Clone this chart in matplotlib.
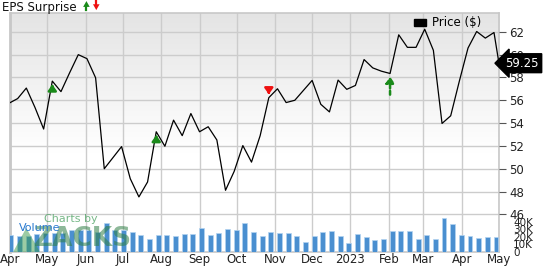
import numpy as np
import pandas as pd
import matplotlib
matplotlib.use("Agg")
import matplotlib.pyplot as plt
import matplotlib.transforms as mtransforms
from matplotlib.patches import Patch, Polygon

# data (weekly closes, last one is the current price)
price_dates = list(pd.date_range("2022-03-31", periods=57, freq="7D")) + [pd.Timestamp("2023-05-01")]
price = [55.74, 56.15, 57.07, 55.37, 53.48, 57.68, 56.76, 58.41, 60.0, 59.65,
         57.97, 50.0, 50.97, 51.94, 49.13, 47.53, 48.84, 53.24, 51.97, 54.26,
         52.9, 54.84, 53.24, 53.68, 52.52, 48.11, 49.77, 52.03, 50.58, 52.9,
         56.23, 57.01, 55.8, 56.0, 56.87, 57.74, 55.65, 54.98, 57.77, 56.96,
         57.3, 59.57, 58.84, 58.55, 58.35, 61.74, 60.64, 60.64, 62.23, 60.38,
         53.97, 54.64, 57.68, 60.58, 62.03, 61.45, 61.94, 59.25]
volume = [22.6, 21.3, 21.3, 24.0, 24.9, 24.9, 24.9, 29.3, 29.3, 29.3,
          27.0, 39.0, 29.3, 29.3, 27.0, 22.2, 17.3, 22.2, 22.2, 21.8,
          24.0, 24.0, 31.5, 22.6, 24.9, 30.2, 29.3, 39.0, 27.0, 21.3,
          26.2, 24.9, 24.9, 20.9, 12.9, 21.3, 27.0, 27.5, 21.3, 12.0,
          23.5, 19.5, 16.2, 16.9, 28.0, 28.0, 27.5, 16.9, 22.2, 17.3,
          44.8, 36.9, 22.2, 21.3, 18.2, 19.5, 20.0, 10.7]  # thousands
beats = [5, 17]      # index of green arrows
misses = [30]        # red arrows
upcoming = 44        # dashed green arrow
price_ticks = [46, 48, 50, 52, 54, 56, 58, 60, 62]
vol_ticks = [0, 10, 20, 30, 40]
vol_labels = ["0", "10K", "20K", "30K", "40K"]
month_ticks = pd.date_range("2022-04-01", "2023-05-01", freq="MS")
month_labels = ["Apr", "May", "Jun", "Jul", "Aug", "Sep", "Oct", "Nov", "Dec",
                "2023", "Feb", "Mar", "Apr", "May"]

fig = plt.figure(figsize=(5.47, 2.66), dpi=100)
ax = fig.add_axes([0.0174, 0.0526, 0.8955, 0.8985])

# gray -> white background gradient
grad = np.linspace(0, 1, 256).reshape(-1, 1)
grad = np.clip(grad * 1.7, 0, 1)
ax.imshow(grad, cmap=matplotlib.colors.LinearSegmentedColormap.from_list("g", ["#e4e4e4", "#ffffff"]),
          extent=[0, 1, 0, 1], transform=ax.transAxes, aspect="auto", zorder=0, origin="upper")

x0 = pd.Timestamp("2022-03-31 10:00")
x1 = pd.Timestamp("2023-05-01 08:00")
ax.set_xlim(x0, x1)
ax.set_ylim(42.7, 63.65)

for t in price_ticks:
    ax.axhline(t, color="#cccccc", lw=1, zorder=1)
for t in month_ticks:
    ax.axvline(t, color="#cccccc", lw=1, zorder=1)

# volume on a twin axis
axv = ax.twinx()
axv.set_ylim(0, 318)
vdates = [d + pd.Timedelta(days=1.6) for d in price_dates]
axv.bar(vdates, volume, width=4.0, color="#4a8fd0", edgecolor="#b3d3f0", linewidth=0.5, zorder=2)
axv.set_yticks(vol_ticks)
axv.set_yticklabels(vol_labels, fontsize=7.5, color="#222222")
axv.tick_params(axis="y", length=0, pad=10)
for s in axv.spines.values():
    s.set_visible(False)

axp = ax.twinx()
axp.set_ylim(42.7, 63.65)
axp.plot(price_dates, price, color="black", lw=0.9, zorder=5)
axp.set_yticks(price_ticks)
axp.set_yticklabels([str(t) for t in price_ticks], fontsize=8.5, color="#222222")
axp.tick_params(axis="y", length=5, width=0.8, color="#555555", pad=2)
for s in axp.spines.values():
    s.set_visible(False)

ax.set_yticks([])
ax.set_xticks(month_ticks)
ax.set_xticklabels(month_labels, fontsize=8.5, color="#222222")
ax.tick_params(axis="x", length=0, pad=0.5)
for name, s in ax.spines.items():
    s.set_color("#c8c8c8")
    s.set_linewidth(1.2)
ax.spines["left"].set_linewidth(2)

# EPS surprise arrows
head = "-|>,head_width=0.25,head_length=0.35"
for i in beats:
    axp.annotate("", xy=(price_dates[i], price[i] - 0.05), xytext=(price_dates[i], price[i] - 0.75),
                 arrowprops=dict(arrowstyle=head, color="#1a8a1a", lw=1.8), zorder=6)
for i in misses:
    axp.annotate("", xy=(price_dates[i], price[i] + 0.05), xytext=(price_dates[i], price[i] + 0.75),
                 arrowprops=dict(arrowstyle=head, color="#ee1111", lw=1.8), zorder=6)
axp.annotate("", xy=(price_dates[upcoming], price[upcoming] - 0.05),
             xytext=(price_dates[upcoming], price[upcoming] - 2.1),
             arrowprops=dict(arrowstyle=head, color="#1a8a1a",
                             lw=1.8, linestyle=(0, (1.5, 1))), zorder=6)

# current price callout
trans = mtransforms.blended_transform_factory(axp.transAxes, axp.transData)
axp.text(1.012, price[-1], "59.25", transform=trans, color="white", fontsize=8.5, va="center", ha="left",
         bbox=dict(boxstyle="larrow,pad=0.25", fc="black", ec="black"), zorder=10, clip_on=False)

axp.legend(handles=[Patch(color="black", label="Price ($)")], loc="upper right", bbox_to_anchor=(0.985, 1.03),
           frameon=False, fontsize=8.5, handlelength=1.0, handleheight=0.5, handletextpad=0.5)

# header
fig.text(0.004, 0.997, "EPS Surprise", fontsize=8.5, color="#111111", va="top", ha="left")
fig.patches.append(Polygon([[0.152, 0.974], [0.164, 0.974], [0.158, 0.996]], closed=True,
                           transform=fig.transFigure, fc="#1a8a1a", ec="none"))
fig.lines.append(plt.Line2D([0.158, 0.158], [0.962, 0.976], transform=fig.transFigure, color="#1a8a1a", lw=1.6))
fig.patches.append(Polygon([[0.170, 0.984], [0.182, 0.984], [0.176, 0.962]], closed=True,
                           transform=fig.transFigure, fc="#ee1111", ec="none"))
fig.lines.append(plt.Line2D([0.176, 0.176], [0.982, 0.996], transform=fig.transFigure, color="#ee1111", lw=1.6))

# watermark
fig.patches.append(Polygon([[0.024, 0.053], [0.073, 0.053], [0.048, 0.143]], closed=True,
                           transform=fig.transFigure, fc="#3a9a4a", alpha=0.5, zorder=20))
fig.text(0.152, 0.1, "ZACKS", fontsize=19, color="#2f7f45", alpha=0.55, fontweight="bold",
         ha="center", va="center", zorder=21)
fig.text(0.13, 0.178, "Charts by", fontsize=8, color="#3d9a55", alpha=0.7, ha="center", va="center", zorder=21)
fig.text(0.035, 0.143, "Volume", fontsize=8, color="#2a7ad0", ha="left", va="center", zorder=22)

fig.savefig("out.png", dpi=100)
